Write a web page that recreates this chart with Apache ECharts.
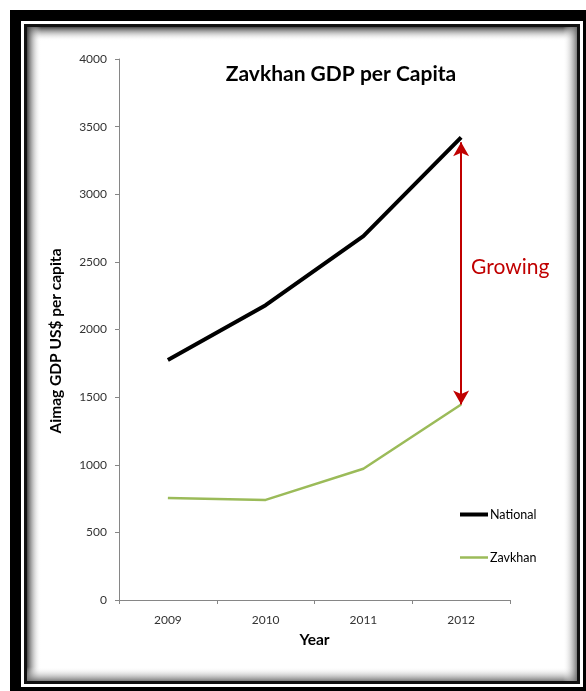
<!DOCTYPE html>
<html>
<head>
<meta charset="utf-8">
<script src="https://cdn.jsdelivr.net/npm/echarts@6/dist/echarts.min.js"></script>
<style>
html,body{margin:0;padding:0;background:#fff;}
#c{width:586px;height:691px;}
</style>
</head>
<body>
<div id="c"></div>
<script>
var years = ['2009', '2010', '2011', '2012'];
var nationalValues = [1775, 2180, 2690, 3420];
var zavkhanValues = [755, 740, 970, 1445];
var yTicks = [0, 500, 1000, 1500, 2000, 2500, 3000, 3500, 4000];
var gapTop = 3385;
var gapBottom = 1445;

var FONT = 'Lato, "Open Sans", sans-serif';
var chart = echarts.init(document.getElementById('c'), null, {renderer: 'canvas'});

function grad(x, y, w, h, x1, y1, x2, y2, c) {
  return {
    type: 'rect', z: 1, silent: true,
    shape: {x: x, y: y, width: w, height: h},
    style: {fill: new echarts.graphic.LinearGradient(x1, y1, x2, y2, [
      {offset: 0, color: c}, {offset: 1, color: 'rgba(255,255,255,0)'}
    ])}
  };
}

var option = {
  backgroundColor: '#fff',
  animation: false,
  graphic: [
    {type: 'rect', z: 0, silent: true, shape: {x: 10, y: 10, width: 620, height: 720}, style: {fill: '#000'}},
    {type: 'rect', z: 0, silent: true, shape: {x: 21, y: 21, width: 562, height: 666}, style: {fill: '#fff'}},
    {type: 'rect', z: 0, silent: true, shape: {x: 24, y: 24, width: 556, height: 660}, style: {fill: '#111'}},
    {type: 'rect', z: 0, silent: true, shape: {x: 27, y: 27, width: 550, height: 654}, style: {fill: '#fff'}},
    grad(27, 27, 550, 14, 0, 0, 0, 1, 'rgba(60,60,60,0.95)'),
    grad(27, 27, 14, 654, 0, 0, 1, 0, 'rgba(60,60,60,0.95)'),
    grad(27, 667, 550, 14, 0, 1, 0, 0, 'rgba(110,110,110,0.9)'),
    grad(563, 27, 14, 654, 1, 0, 0, 0, 'rgba(110,110,110,0.9)'),
    {type: 'text', z: 5, left: 471, top: 257,
      style: {text: 'Growing', fill: '#C00000', font: '21px ' + FONT}}
  ],
  title: {
    text: 'Zavkhan GDP per Capita',
    left: 336, top: 59, textAlign: 'center',
    textStyle: {fontFamily: FONT, fontSize: 21, fontWeight: 'bold', color: '#000'}
  },
  legend: {
    orient: 'vertical',
    left: 453, top: 503,
    itemWidth: 28, itemHeight: 14, itemGap: 30,
    itemStyle: {opacity: 0},
    textStyle: {fontFamily: FONT, fontSize: 12.5, color: '#000', padding: [0, 0, 0, -3]},
    data: [
      {name: 'National', lineStyle: {width: 4, color: '#000'}},
      {name: 'Zavkhan', lineStyle: {width: 2.5, color: '#9BBB59'}}
    ]
  },
  grid: {left: 119, right: 76, top: 59, bottom: 91, containLabel: false},
  xAxis: {
    type: 'category',
    data: years,
    boundaryGap: true,
    name: 'Year',
    nameLocation: 'middle',
    nameGap: 32,
    nameTextStyle: {fontFamily: FONT, fontSize: 15.5, fontWeight: 'bold', color: '#000'},
    axisLine: {lineStyle: {color: '#868686', width: 1}},
    axisTick: {show: true, length: 4, lineStyle: {color: '#868686'}},
    axisLabel: {fontFamily: FONT, fontSize: 12, color: '#333', margin: 14}
  },
  yAxis: {
    type: 'value',
    min: yTicks[0], max: yTicks[yTicks.length - 1], interval: 500,
    name: 'Aimag GDP US$ per capita',
    nameLocation: 'middle',
    nameGap: 55,
    nameTextStyle: {fontFamily: FONT, fontSize: 15.5, fontWeight: 'bold', color: '#000', padding: [0, 23, 0, 0]},
    splitLine: {show: false},
    axisLine: {show: true, lineStyle: {color: '#868686', width: 1}},
    axisTick: {show: true, length: 4, lineStyle: {color: '#868686'}},
    axisLabel: {fontFamily: FONT, fontSize: 12, color: '#333', margin: 12,
      formatter: function (v) { return String(v); }}
  },
  series: [
    {
      name: 'National', type: 'line', data: nationalValues,
      symbol: 'none', z: 3,
      lineStyle: {color: '#000', width: 4},
      itemStyle: {color: '#000'},
      markLine: {
        silent: true,
        symbol: ['arrow', 'arrow'],
        symbolSize: [12, 14],
        lineStyle: {color: '#C00000', width: 2, type: 'solid'},
        label: {show: false},
        data: [[{coord: [years[3], gapTop]}, {coord: [years[3], gapBottom]}]]
      }
    },
    {
      name: 'Zavkhan', type: 'line', data: zavkhanValues,
      symbol: 'none', z: 3,
      lineStyle: {color: '#9BBB59', width: 2.5},
      itemStyle: {color: '#9BBB59'}
    }
  ]
};
chart.setOption(option);
</script>
</body>
</html>
